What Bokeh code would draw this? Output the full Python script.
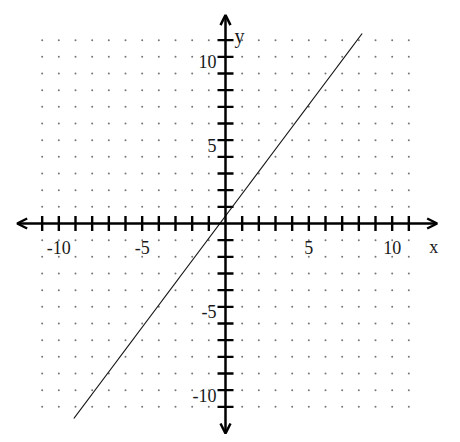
import numpy as np
from bokeh.plotting import figure
from bokeh.models import Arrow, OpenHead, ColumnDataSource
from bokeh.core.properties import value
from bokeh.embed import file_html
from bokeh.resources import INLINE

# ---- data ----
tick_values = [v for v in range(-11, 12) if v != 0]
x_tick_labels = {-10: "-10", -5: "-5", 5: "5", 10: "10"}
y_tick_labels = {-10: "-10", -5: "-5", 5: "5", 10: "10"}
grid_values = [v for v in range(-11, 12) if v != 0]
line_x = [-9.1, 8.2]
line_y = [-11.7, 11.4]
x_axis_extent = [-12.5, 12.7]
y_axis_extent = [-12.6, 12.5]
x_name = "x"
y_name = "y"

FONT = value("Liberation Serif")
TXT = "#1a1a1a"

p = figure(width=460, height=442, x_range=(-13.5, 14.1), y_range=(-13.14, 13.38),
           output_backend="svg", toolbar_location=None, min_border=0)
p.axis.visible = False
p.grid.visible = False
p.outline_line_color = None
p.background_fill_color = "white"

# dotted grid at integer points
gx, gy = np.meshgrid(grid_values, grid_values)
p.scatter(gx.ravel(), gy.ravel(), size=2, color="#777777", line_color=None)

# axes lines with arrowheads
p.add_layout(Arrow(x_start=x_axis_extent[0], y_start=0, x_end=x_axis_extent[1], y_end=0,
                   line_width=2.5, line_color="black",
                   start=OpenHead(size=10, line_width=2.5, line_color="black"),
                   end=OpenHead(size=10, line_width=2.5, line_color="black")))
p.add_layout(Arrow(x_start=0, y_start=y_axis_extent[0], x_end=0, y_end=y_axis_extent[1],
                   line_width=2.5, line_color="black",
                   start=OpenHead(size=10, line_width=2.5, line_color="black"),
                   end=OpenHead(size=10, line_width=2.5, line_color="black")))

# tick marks
zeros = [0] * len(tick_values)
p.scatter(tick_values, zeros, marker="dash", size=15, angle=np.pi / 2,
          line_color="black", line_width=2.4)
p.scatter(zeros, tick_values, marker="dash", size=16,
          line_color="black", line_width=2.4)

# the line
p.line(line_x, line_y, line_color="#111111", line_width=1.2)

# tick labels
xl = ColumnDataSource(dict(x=list(x_tick_labels.keys()), y=[0] * len(x_tick_labels),
                           t=list(x_tick_labels.values())))
p.text(x="x", y="y", text="t", source=xl, text_font=FONT, text_font_size="18px",
       text_color=TXT, text_align="center", text_baseline="middle", y_offset=24)
yl = ColumnDataSource(dict(x=[0] * len(y_tick_labels), y=list(y_tick_labels.keys()),
                           t=list(y_tick_labels.values())))
p.text(x="x", y="y", text="t", source=yl, text_font=FONT, text_font_size="18px",
       text_color=TXT, text_align="right", text_baseline="middle", x_offset=-9, y_offset=5)

# axis names
p.text(x=[x_axis_extent[1] - 0.2], y=[0], text=[x_name], text_font=FONT, text_font_size="18px",
       text_color=TXT, text_align="center", text_baseline="middle", y_offset=23)
p.text(x=[0], y=[11], text=[y_name], text_font=FONT, text_font_size="20px",
       text_color=TXT, text_align="left", text_baseline="middle", x_offset=9, y_offset=-4)

open("out.html", "w").write(file_html(p, INLINE))
